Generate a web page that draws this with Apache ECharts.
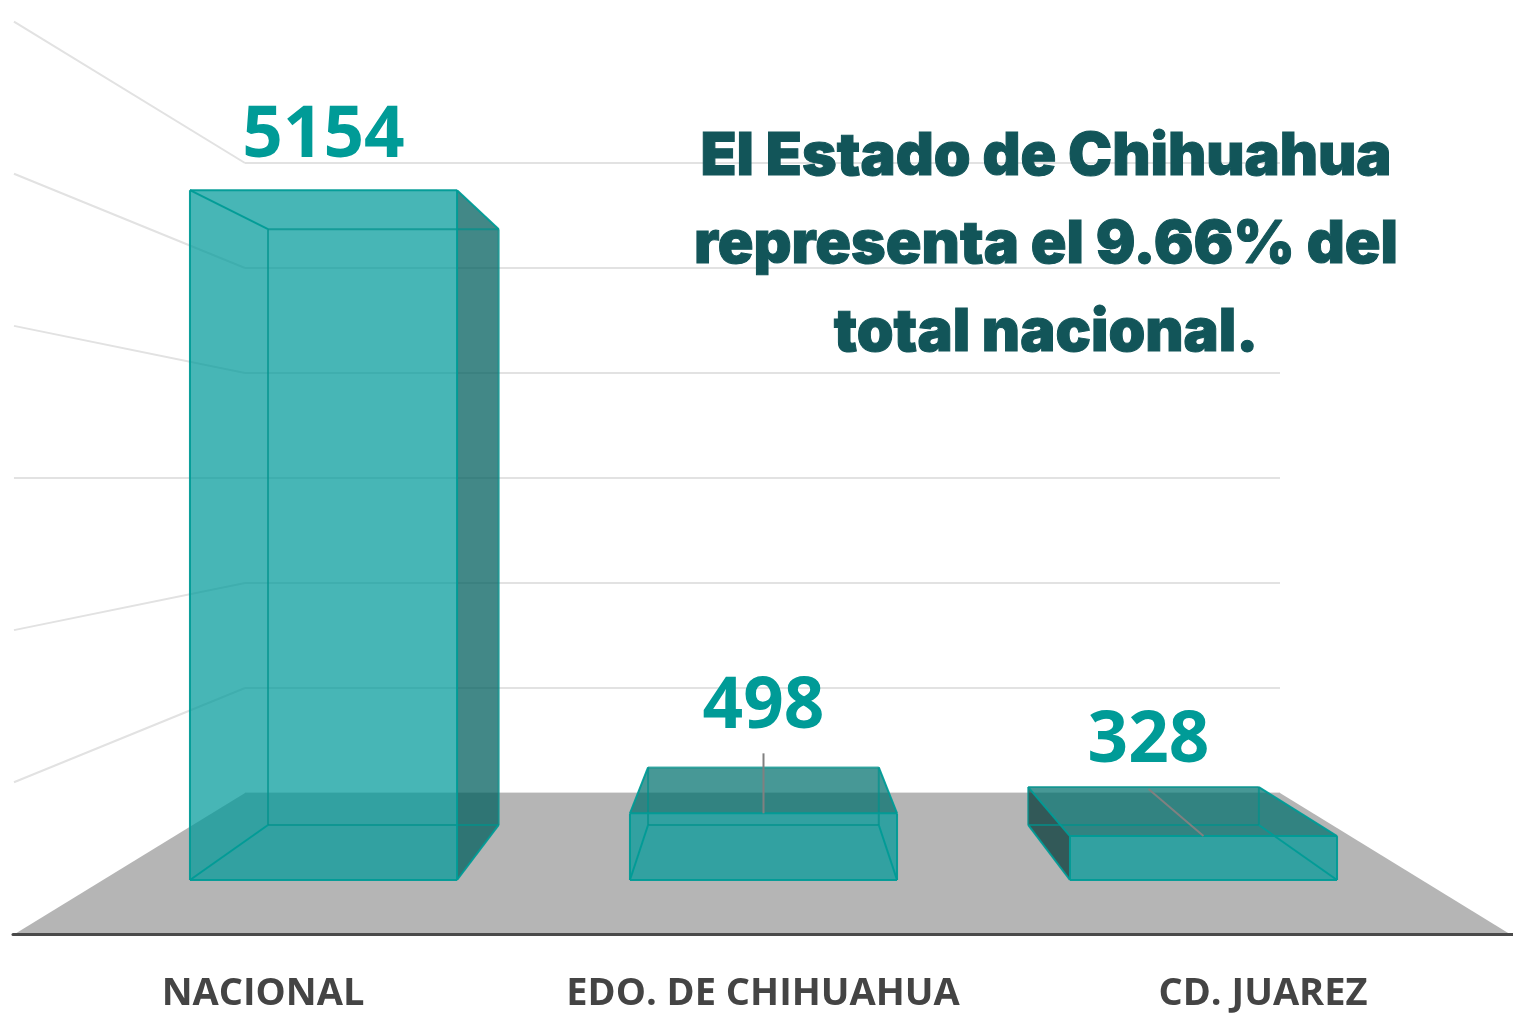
<!DOCTYPE html>
<html>
<head>
<meta charset="utf-8">
<style>
  html, body { margin: 0; padding: 0; background: #fff; }
  #chart { width: 1513px; height: 1013px; }
</style>
<script src="https://cdn.jsdelivr.net/npm/echarts@6/dist/echarts.min.js"></script>
</head>
<body>
<div id="chart"></div>
<script>
const categories = ['NACIONAL', 'EDO. DE CHIHUAHUA', 'CD. JUAREZ']
const values = [5154, 498, 328]
const wallTicks = [1000, 2000, 3000, 4000, 5000, 6000]
const headline = 'El Estado de Chihuahua\nrepresenta el 9.66% del\ntotal nacional.'

// label position relative to the top centre of the front face
const labelOffsets = [[0, -53], [0, -106], [-55, -94]]
// start of the leader line, same reference point (null = no line)
const leaderOffsets = [null, [0, -60], [-55, -47]]

const TEAL_LINE = 'rgba(0,155,150,0.95)'
const BACK_LINE = 'rgba(0,145,140,0.7)'
const WALL_LINE = '#e2e2e2'

// the room and the bars have their own vanishing point
function toEdge(x, y) {
  return [763 + (x - 763) * 1.446, 478 + (y - 478) * 1.449]
}
function toBack(x, y) {
  return [763 + (x - 763) * 0.8638, 476 + (y - 476) * 0.8638]
}

function poly(points, fill, z2) {
  return { type: 'polygon', z2: z2 || 0, shape: { points: points }, style: { fill: fill, stroke: null } }
}
function seg(a, b, color, width, z2) {
  return {
    type: 'line',
    z2: z2 || 1,
    shape: { x1: a[0], y1: a[1], x2: b[0], y2: b[1] },
    style: { stroke: color, lineWidth: width, fill: null }
  }
}

function renderFloor(params, api) {
  const a = api.coord([0, 0])
  const b = api.coord([1, 0])
  return poly([a, b, toEdge(b[0], b[1]), toEdge(a[0], a[1])], '#b5b5b5')
}

function renderWallLine(params, api) {
  const p = api.coord([0, api.value(0)])
  return seg(p, toEdge(p[0], p[1]), WALL_LINE, 2)
}

function renderBar(params, api) {
  const i = params.dataIndex
  const top = api.coord([i, api.value(1)])
  const base = api.coord([i, 0])
  const half = api.size([1, 0])[0] * 0.3035
  const xl = top[0] - half
  const xr = top[0] + half

  const fTL = [xl, top[1]]
  const fTR = [xr, top[1]]
  const fBR = [xr, base[1]]
  const fBL = [xl, base[1]]
  const bTL = toBack(xl, top[1])
  const bTR = toBack(xr, top[1])
  const bBR = toBack(xr, base[1])
  const bBL = toBack(xl, base[1])

  const children = []
  // faces that stick out of the front rectangle
  if (bTL[1] < fTL[1]) children.push(poly([fTL, bTL, bTR, fTR], 'rgba(0,112,110,0.72)'))
  if (bTR[0] > fTR[0]) children.push(poly([fTR, bTR, bBR, fBR], 'rgba(0,95,93,0.74)'))
  if (bTL[0] < fTL[0]) children.push(poly([fTL, bTL, bBL, fBL], 'rgba(0,54,53,0.72)'))
  children.push(poly([fTL, fTR, fBR, fBL], 'rgba(0,154,154,0.72)'))

  const backEdges = [[bTL, bTR], [bTR, bBR], [bBR, bBL], [bBL, bTL]]
  backEdges.forEach((e) => children.push(seg(e[0], e[1], BACK_LINE, 2)))
  const edges = [
    [fTL, bTL], [fTR, bTR], [fBR, bBR], [fBL, bBL],
    [fTL, fTR], [fTR, fBR], [fBR, fBL], [fBL, fTL]
  ]
  edges.forEach((e) => children.push(seg(e[0], e[1], TEAL_LINE, 2)))

  if (leaderOffsets[i]) {
    const from = [top[0] + leaderOffsets[i][0], top[1] + leaderOffsets[i][1]]
    children.push(seg(from, [top[0], top[1]], '#808080', 2, 2))
  }
  children.push({
    type: 'text',
    z2: 3,
    style: {
      x: top[0] + labelOffsets[i][0],
      y: top[1] + labelOffsets[i][1],
      text: String(api.value(1)),
      fill: '#009b97',
      font: '700 71px "Open Sans"',
      textAlign: 'center',
      textVerticalAlign: 'middle'
    }
  })
  return { type: 'group', children: children }
}

const chart = echarts.init(document.getElementById('chart'))
chart.setOption({
  animation: false,
  backgroundColor: '#fff',
  title: {
    text: headline,
    left: 1041,
    top: 108,
    textAlign: 'center',
    z: 10,
    textStyle: {
      color: '#125559',
      fontFamily: 'Inter',
      fontWeight: 900,
      fontSize: 59,
      lineHeight: 88,
      textBorderColor: '#125559',
      textBorderWidth: 1
    }
  },
  grid: [
    // back wall
    { left: 245, top: 163, width: 1035, height: 630 },
    // plane of the front faces
    { left: 103.5, top: 77, width: 1320, height: 803 },
    // category labels and front edge of the floor
    { left: 13, top: 900, width: 1500, height: 37 }
  ],
  xAxis: [
    { gridIndex: 0, type: 'value', min: 0, max: 1, show: false },
    { gridIndex: 1, type: 'category', data: categories, show: false },
    {
      gridIndex: 2,
      type: 'category',
      data: categories,
      z: 5,
      axisLine: { lineStyle: { color: '#4a4a4a', width: 3 } },
      axisTick: { show: false },
      axisLabel: {
        interval: 0,
        margin: 41,
        color: '#444',
        fontFamily: 'Open Sans',
        fontWeight: 700,
        fontSize: 38
      }
    }
  ],
  yAxis: [
    {
      gridIndex: 0,
      type: 'value',
      min: 0,
      max: 6000,
      interval: 1000,
      axisLine: { show: false },
      axisTick: { show: false },
      axisLabel: { show: false },
      splitLine: { lineStyle: { color: WALL_LINE, width: 2 } }
    },
    { gridIndex: 1, type: 'value', min: 0, max: 6000, show: false },
    { gridIndex: 2, type: 'value', min: 0, max: 1, show: false }
  ],
  series: [
    {
      type: 'custom',
      xAxisIndex: 0,
      yAxisIndex: 0,
      z: 1,
      silent: true,
      clip: false,
      data: [[0]],
      renderItem: renderFloor
    },
    {
      type: 'custom',
      xAxisIndex: 0,
      yAxisIndex: 0,
      z: 2,
      silent: true,
      clip: false,
      data: wallTicks.map((t) => [t]),
      encode: { y: 0 },
      renderItem: renderWallLine
    },
    {
      type: 'custom',
      xAxisIndex: 1,
      yAxisIndex: 1,
      z: 3,
      clip: false,
      data: values.map((v, i) => [i, v]),
      encode: { x: 0, y: 1 },
      renderItem: renderBar
    }
  ]
})
</script>
</body>
</html>
